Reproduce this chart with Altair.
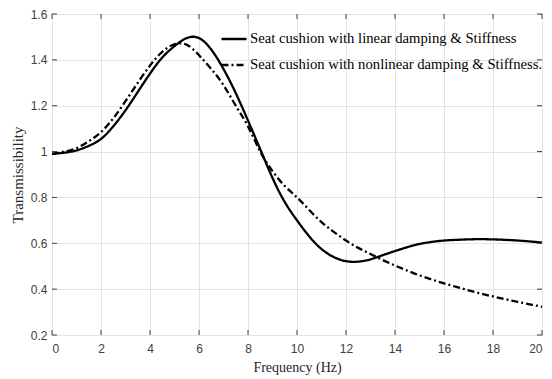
import altair as alt
import pandas as pd

freq = [0, 0.5, 1, 1.5, 2, 2.5, 3, 3.5, 4, 4.5, 5, 5.5, 6, 6.5, 7, 7.5, 8, 8.5, 9, 9.5,
        10, 10.5, 11, 11.5, 12, 12.5, 13, 13.5, 14, 14.5, 15, 15.5, 16, 16.5, 17, 17.5,
        18, 18.5, 19, 19.5, 20]
linear = [0.99, 0.995, 1.005, 1.025, 1.055, 1.11, 1.18, 1.26, 1.34, 1.41, 1.46, 1.495,
          1.495, 1.445, 1.36, 1.255, 1.135, 1.01, 0.885, 0.78, 0.70, 0.63, 0.575, 0.54,
          0.522, 0.52, 0.53, 0.548, 0.566, 0.583, 0.597, 0.606, 0.612, 0.615, 0.617,
          0.618, 0.617, 0.615, 0.612, 0.608, 0.603]
nonlinear = [0.99, 1.0, 1.015, 1.045, 1.085, 1.145, 1.22, 1.30, 1.375, 1.435, 1.468, 1.466,
             1.42, 1.36, 1.29, 1.20, 1.11, 1.0, 0.915, 0.85, 0.80, 0.745, 0.692, 0.65,
             0.612, 0.58, 0.553, 0.527, 0.503, 0.481, 0.46, 0.442, 0.425, 0.41, 0.395,
             0.381, 0.368, 0.356, 0.345, 0.334, 0.323]
names = ["Seat cushion with linear damping & Stiffness",
         "Seat cushion with nonlinear damping & Stiffness."]
x_ticks = [0, 2, 4, 6, 8, 10, 12, 14, 16, 18, 20]
y_ticks = [0.2, 0.4, 0.6, 0.8, 1.0, 1.2, 1.4, 1.6]

W, H = 490, 321

df = pd.DataFrame({
    "f": freq * 2,
    "T": linear + nonlinear,
    "s": [names[0]] * len(freq) + [names[1]] * len(freq),
})
xt = pd.DataFrame({"x": x_ticks})
yt = pd.DataFrame({"y": y_ticks})

xscale = alt.Scale(domain=[0, 20], nice=False, zero=False)
yscale = alt.Scale(domain=[0.2, 1.6], nice=False, zero=False)

lines = alt.Chart(df).mark_line(color="black", strokeWidth=2.3, interpolate="natural").encode(
    x=alt.X("f:Q", scale=xscale,
            axis=alt.Axis(values=x_ticks, title="Frequency (Hz)", format="~g")),
    y=alt.Y("T:Q", scale=yscale,
            axis=alt.Axis(values=y_ticks, title="Transmissibility", format="~g")),
    strokeDash=alt.StrokeDash(
        "s:N",
        scale=alt.Scale(domain=names, range=[[1, 0], [7, 3, 2, 3]]),
        legend=alt.Legend(
            title=None, orient="none", legendX=168, legendY=11,
            symbolType="stroke", symbolSize=625, symbolStrokeWidth=2.5,
            symbolStrokeColor="black", labelFont="Liberation Serif",
            labelFontSize=14.7, labelColor="black", labelLimit=400,
            labelOffset=2, rowPadding=5, padding=0,
        ),
    ),
)

tick_color = "#404040"
bottom = alt.Chart(xt).mark_rule(color=tick_color).encode(
    x=alt.X("x:Q", scale=xscale), y=alt.value(H), y2=alt.value(H - 5))
top = alt.Chart(xt).mark_rule(color=tick_color).encode(
    x=alt.X("x:Q", scale=xscale), y=alt.value(0), y2=alt.value(5))
left = alt.Chart(yt).mark_rule(color=tick_color).encode(
    y=alt.Y("y:Q", scale=yscale), x=alt.value(0), x2=alt.value(5))
right = alt.Chart(yt).mark_rule(color=tick_color).encode(
    y=alt.Y("y:Q", scale=yscale), x=alt.value(W), x2=alt.value(W - 5))

chart = alt.layer(lines, bottom, top, left, right).properties(
    width=W, height=H,
    autosize=alt.AutoSizeParams(type="none"),
    padding={"left": 44, "top": 6, "right": 2, "bottom": 43},
).configure_view(
    stroke="#404040", strokeWidth=1
).configure_axis(
    domain=False, ticks=False,
    grid=True, gridColor="#e3e3e3", gridWidth=1,
    labelFont="Liberation Sans", labelFontSize=12, labelColor="#404040",
    titleFont="Liberation Serif", titleFontWeight="normal", titleColor="#262626",
).configure_axisX(
    labelPadding=8, titleFontSize=14, titlePadding=6,
).configure_axisY(
    labelPadding=5, titleFontSize=15, titlePadding=5,
)

chart.save("out.html", embed_options={"renderer": "svg", "actions": False})
